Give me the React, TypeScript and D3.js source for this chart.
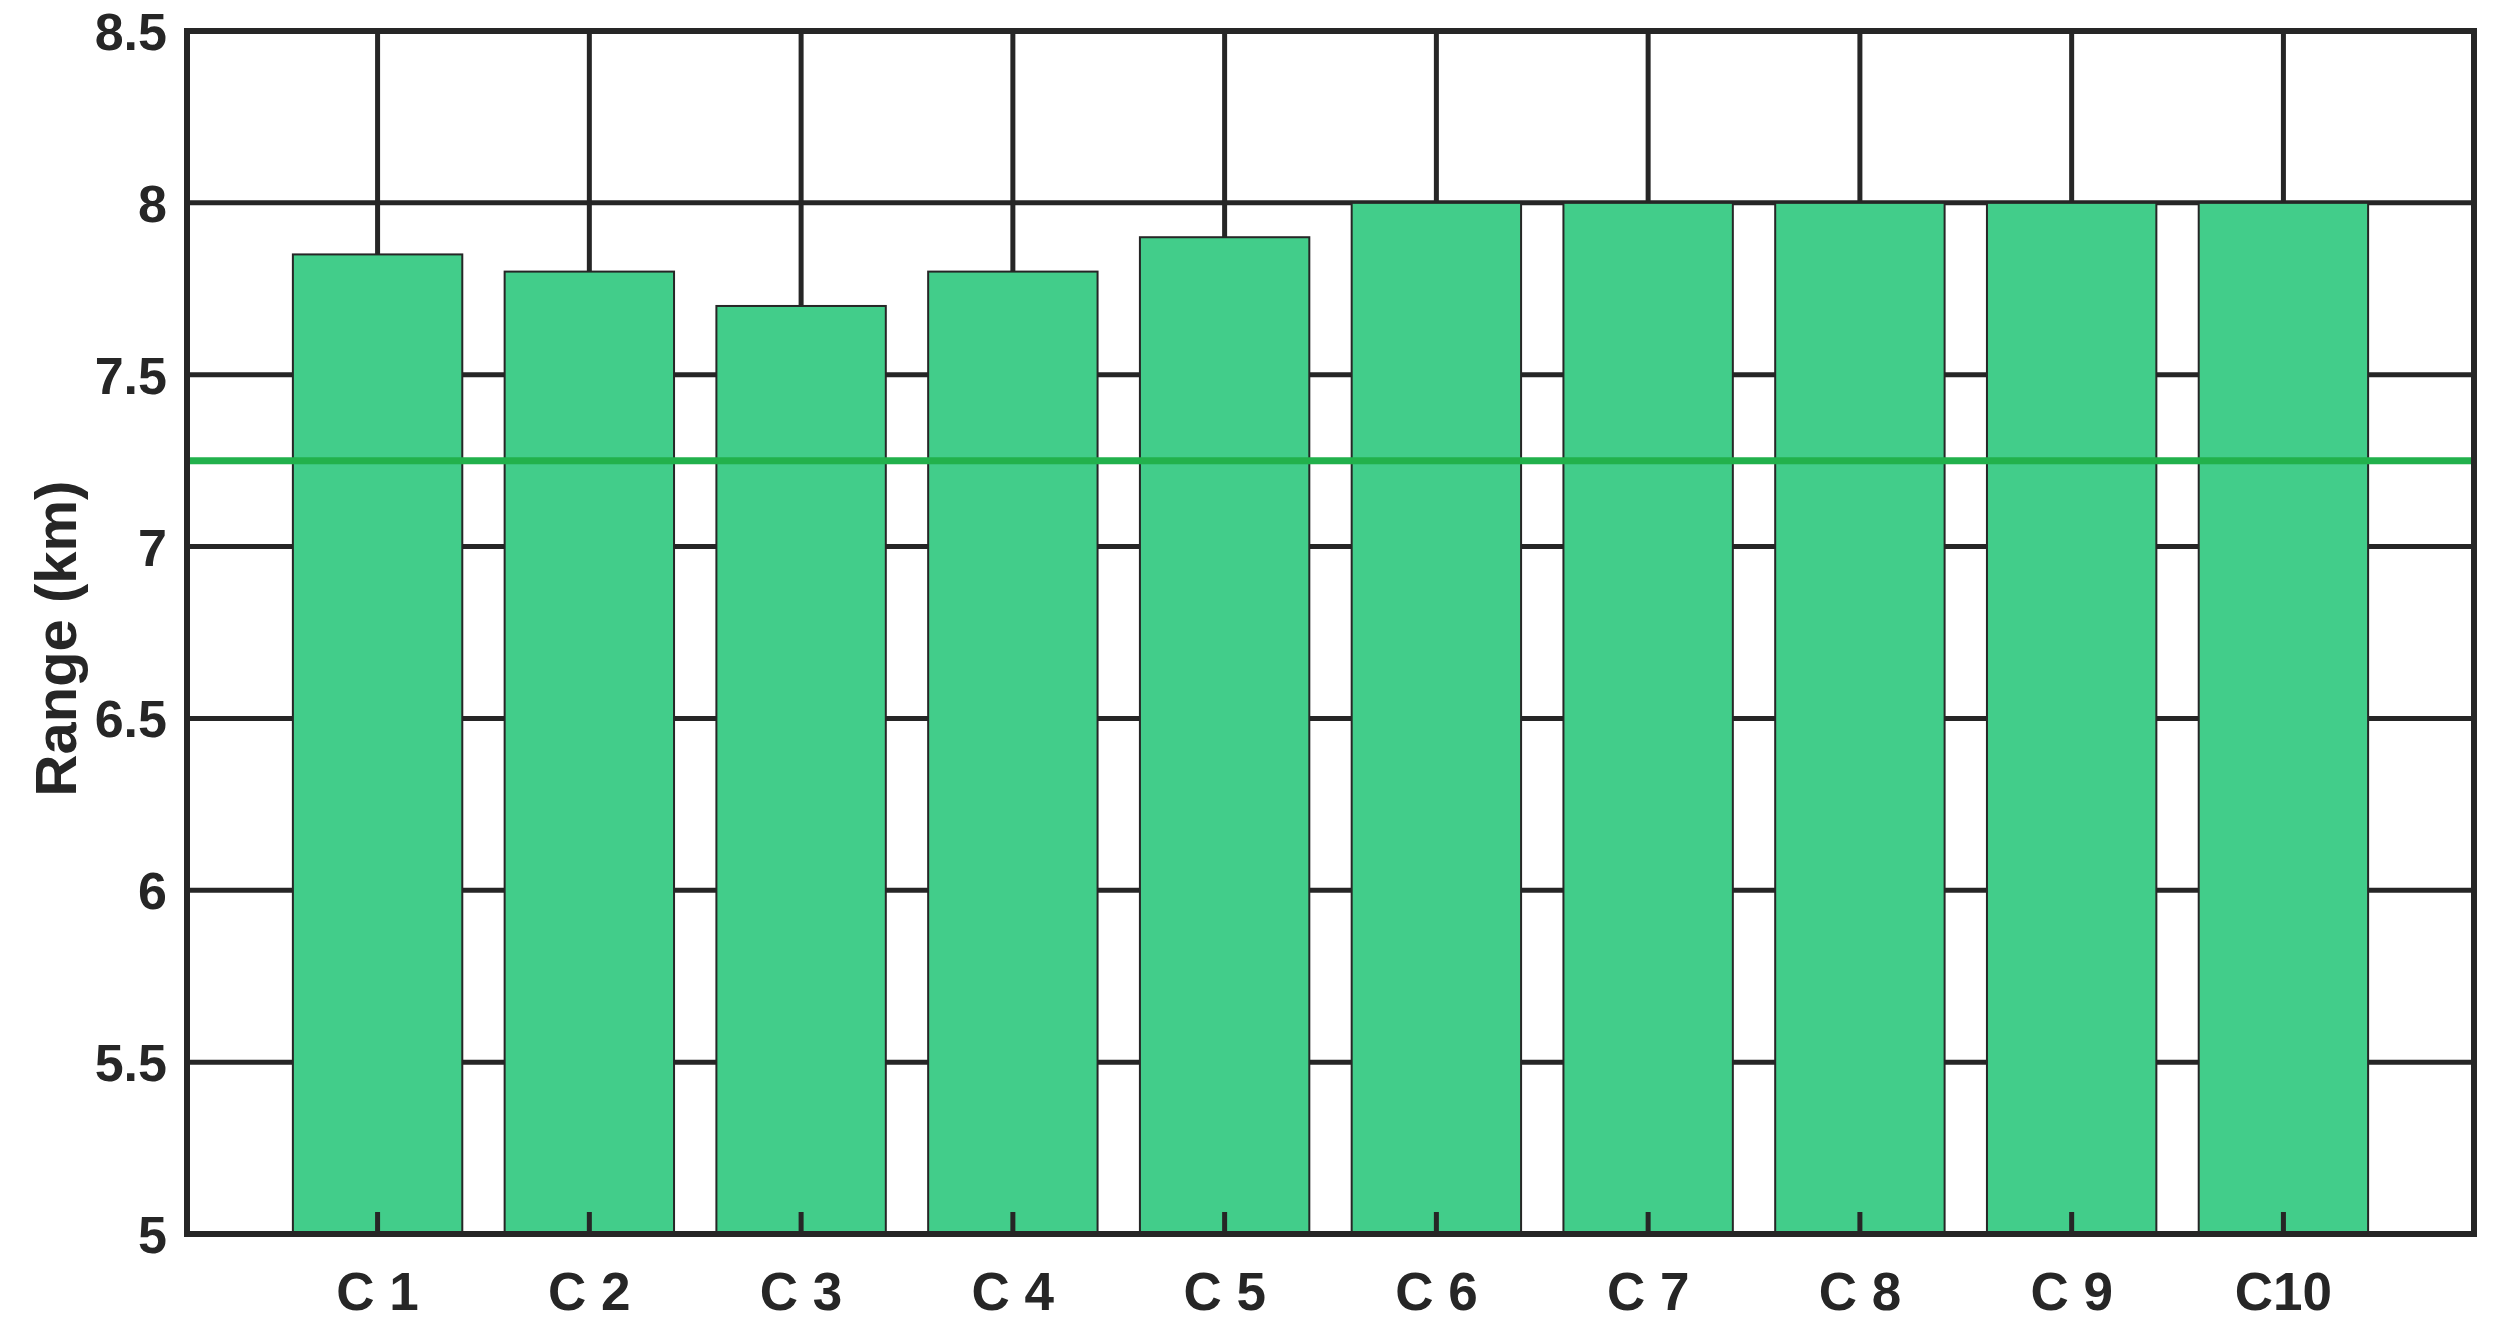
import React from 'react';
import * as d3 from 'd3';

// chart data
const categories = ['C 1', 'C 2', 'C 3', 'C 4', 'C 5', 'C 6', 'C 7', 'C 8', 'C 9', 'C10'];
const rangeKm = [7.85, 7.8, 7.7, 7.8, 7.9, 8.0, 8.0, 8.0, 8.0, 8.0];
const yTicks = [5, 5.5, 6, 6.5, 7, 7.5, 8, 8.5];
const thresholdKm = 7.25;

const W = 2504;
const H = 1332;
const ink = '#262626';
const font = '"Liberation Sans", Arial, Helvetica, sans-serif';

export default function App() {
  const left = 187;
  const right = 2474;
  const top = 31;
  const bottom = 1234;

  const x = d3.scaleLinear().domain([0.1, categories.length + 0.9]).range([left, right]);
  const y = d3.scaleLinear().domain([5, 8.5]).range([bottom, top]);
  const barW = x(1.8) - x(1);

  return (
    <div style={{ position: 'absolute', left: 0, top: 0, background: '#fff' }}>
      <svg width={W} height={H} style={{ display: 'block' }} fontFamily={font}>
        <rect x={0} y={0} width={W} height={H} fill="#fff" />

        {/* grid */}
        <g stroke={ink} strokeWidth={5}>
          {yTicks.map(t => (
            <line key={'gy' + t} x1={left} x2={right} y1={y(t)} y2={y(t)} />
          ))}
          {categories.map((c, i) => (
            <line key={'gx' + c} x1={x(i + 1)} x2={x(i + 1)} y1={top} y2={bottom} />
          ))}
        </g>

        {/* bars */}
        <g>
          {rangeKm.map((v, i) => (
            <rect
              key={categories[i]}
              x={x(i + 1) - barW / 2}
              y={y(v)}
              width={barW}
              height={y(5) - y(v)}
              fill="#42CD8A"
              stroke={ink}
              strokeWidth={2}
            />
          ))}
        </g>

        {/* inward x ticks */}
        <g stroke={ink} strokeWidth={5}>
          {categories.map((c, i) => (
            <line key={'tx' + c} x1={x(i + 1)} x2={x(i + 1)} y1={bottom} y2={bottom - 22} />
          ))}
        </g>

        {/* threshold line */}
        <line
          x1={left}
          x2={right + 3}
          y1={y(thresholdKm)}
          y2={y(thresholdKm)}
          stroke="#22B14C"
          strokeWidth={7}
        />

        {/* axes box */}
        <rect x={left} y={top} width={right - left} height={bottom - top} fill="none" stroke={ink} strokeWidth={6} />

        {/* y tick labels */}
        <g fill={ink} fontSize={52} fontWeight="bold" textAnchor="end">
          {yTicks.map(t => (
            <text key={'ly' + t} x={left - 20} y={y(t) + 19}>
              {String(t)}
            </text>
          ))}
        </g>

        {/* x tick labels */}
        <g fill={ink} fontSize={53} fontWeight="bold" textAnchor="middle">
          {categories.map((c, i) => (
            <text key={'lx' + c} x={x(i + 1)} y={bottom + 76} xmlSpace="preserve">
              {c}
            </text>
          ))}
        </g>

        {/* y axis title */}
        <text
          transform={`translate(${76},${(top + bottom) / 2 + 6}) rotate(-90)`}
          textAnchor="middle"
          fill={ink}
          fontSize={58}
          fontWeight="bold"
        >
          Range (km)
        </text>
      </svg>
    </div>
  );
}
